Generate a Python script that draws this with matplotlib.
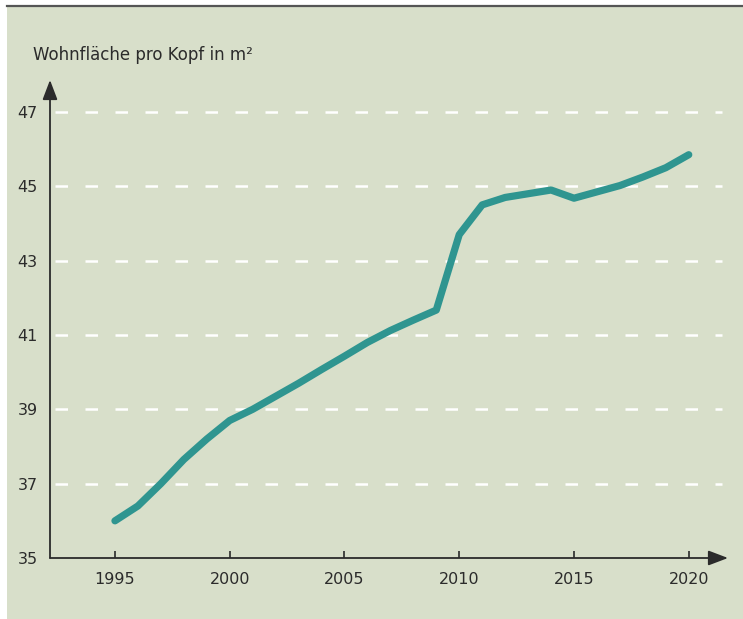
import matplotlib
matplotlib.use("Agg")
import matplotlib.pyplot as plt
import matplotlib.patches as patches
from matplotlib.lines import Line2D

# === Data ===
years = [1995, 1996, 1997, 1998, 1999, 2000, 2001, 2002, 2003, 2004,
         2005, 2006, 2007, 2008, 2009, 2010, 2011, 2012, 2013, 2014,
         2015, 2016, 2017, 2018, 2019, 2020]
area_per_person = [36.0, 36.4, 37.0, 37.65, 38.2, 38.7, 39.0, 39.35, 39.7, 40.07,
                   40.43, 40.8, 41.12, 41.4, 41.67, 43.7, 44.5, 44.7, 44.8, 44.9,
                   44.68, 44.85, 45.02, 45.25, 45.5, 45.85]
x_ticks = [1995, 2000, 2005, 2010, 2015, 2020]
y_ticks = [35, 37, 39, 41, 43, 45, 47]
y_grid = [37, 39, 41, 43, 45, 47]
y_title = "Wohnfläche pro Kopf in m²"

# === Style ===
W, H = 743, 619
BG = "#d8dfca"
LINE = "#2f9590"
INK = "#2b2b2b"
plt.rcParams['font.family'] = ['DejaVu Sans']

fig = plt.figure(figsize=(W / 100, H / 100), dpi=100)
fig.patch.set_facecolor("white")

# panel background + top rule
fig.patches.append(patches.Rectangle((7 / W, 0), 1 - 7 / W, 1 - 6 / H,
                                     transform=fig.transFigure, facecolor=BG,
                                     edgecolor="none", zorder=-5))
fig.lines.append(Line2D([7 / W, 1], [1 - 5.5 / H, 1 - 5.5 / H],
                        transform=fig.transFigure, color="#555555", lw=1.6,
                        zorder=-4))

# axes: x axis from px 50 to 728, y axis from px 558 up to 80
ax = fig.add_axes([50 / W, (H - 558) / H, (728 - 50) / W, (558 - 80) / H])
ax.set_zorder(2)
ax.set_facecolor("none")
ax.set_xlim(1992.17, 2021.71)
ax.set_ylim(35, 47.86)

for s in ax.spines.values():
    s.set_visible(False)

# dashed white grid
for g in y_grid:
    ax.axhline(g, xmin=0.007, xmax=0.991, color="white", lw=1.8,
               dashes=(5, 7), zorder=1)

# axis arrows
arrow = dict(arrowstyle="-|>,head_length=1.0,head_width=0.38",
             mutation_scale=12, color=INK, lw=1.3, shrinkA=0, shrinkB=0)
ax.annotate("", xy=(1, 0), xytext=(0, 0), xycoords="axes fraction",
            arrowprops=arrow)
ax.annotate("", xy=(0, 1), xytext=(0, 0), xycoords="axes fraction",
            arrowprops=arrow)

ax.plot(years, area_per_person, color=LINE, lw=5.2,
        solid_capstyle="round", solid_joinstyle="round", zorder=3)

ax.set_xticks(x_ticks)
ax.set_yticks(y_ticks)
ax.tick_params(axis="x", direction="in", length=5, width=1.2, color=INK,
               pad=10, labelsize=11.5, labelcolor=INK)
ax.tick_params(axis="y", length=0, pad=9, labelsize=11.5, labelcolor=INK)

fig.text(33 / W, 1 - 55 / H, y_title, fontsize=12, color=INK,
         ha="left", va="center")

fig.savefig("out.png", dpi=100, facecolor="white")
